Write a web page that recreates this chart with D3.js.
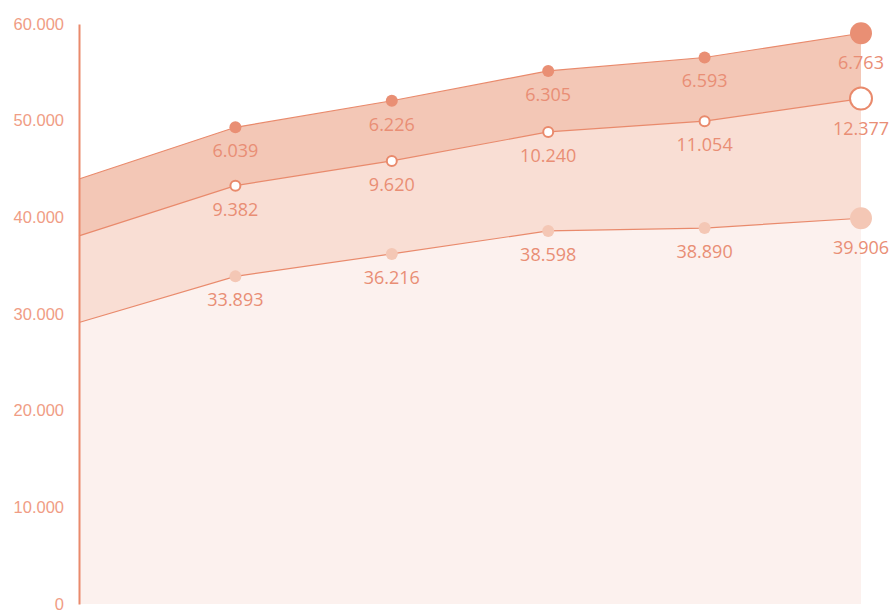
<!DOCTYPE html>
<html>
<head>
<meta charset="utf-8">
<script src="https://cdn.jsdelivr.net/npm/d3@7"></script>
<style>
  body { margin: 0; background: #fff; }
  svg { display: block; font-family: "Open Sans", "Noto Sans", sans-serif; }
</style>
</head>
<body>
<svg id="chart" width="893" height="612"></svg>
<script>
/** Categories along x (no labels shown in the chart) */
var periods = ["p0", "p1", "p2", "p3", "p4", "p5"];

/** Series values, in thousands, stacked bottom to top */
var baseValues = [29.12, 33.893, 36.216, 38.598, 38.890, 39.906];
var midValues = [8.96, 9.382, 9.620, 10.240, 11.054, 12.377];
var topValues = [5.88, 6.039, 6.226, 6.305, 6.593, 6.763];

/** Y tick values */
var yTicks = [0, 10, 20, 30, 40, 50, 60];

var lineColor = "#e98a6c",
    axisText = "#f09d85",
    labelText = "#e98e75";

var svg = d3.select("#chart");

var x = d3.scalePoint()
    .domain(periods)
    .range([79, 861]);

var y = d3.scaleLinear()
    .domain([0, 60])
    .range([604, 24]);

// build rows for the stack
var rows = periods.map(function(p, i) {
  return {period: p, base: baseValues[i], mid: midValues[i], top: topValues[i]};
});

var stack = d3.stack().keys(["base", "mid", "top"]);
var layers = stack(rows);

var fills = ["#fcf1ee", "#f9ded4", "#f3c7b6"];

var area = d3.area()
    .x(function(d) { return x(d.data.period); })
    .y0(function(d) { return y(d[0]); })
    .y1(function(d) { return y(d[1]); });

var line = d3.line()
    .x(function(d) { return x(d.data.period); })
    .y(function(d) { return y(d[1]); });

svg.selectAll(".layer")
  .data(layers)
  .enter().append("path")
  .attr("class", "layer")
  .attr("d", area)
  .attr("fill", function(d, i) { return fills[i]; });

svg.selectAll(".edge")
  .data(layers)
  .enter().append("path")
  .attr("class", "edge")
  .attr("d", line)
  .attr("fill", "none")
  .attr("stroke", lineColor)
  .attr("stroke-width", 1.2);

// y axis
var yAxis = d3.axisLeft(y)
    .tickValues(yTicks)
    .tickSize(0)
    .tickPadding(15)
    .tickFormat(function(d) { return d === 0 ? "0" : d + ".000"; });

var gy = svg.append("g")
    .attr("transform", "translate(79,0)")
    .call(yAxis);
gy.select(".domain")
    .attr("stroke", lineColor)
    .attr("stroke-width", 2);
gy.selectAll("text")
    .attr("fill", axisText)
    .style("font-size", "16.5px");

// markers + labels (skip the first point)
var markerStyle = [
  {fill: "#f4c7b5", stroke: "none"},
  {fill: "#ffffff", stroke: lineColor},
  {fill: "#e98f74", stroke: "none"}
];

var fmt = d3.format(",.3f");

layers.forEach(function(layer, li) {
  var pts = layer.filter(function(d, i) { return i > 0; });
  var n = pts.length;
  var g = svg.append("g");

  g.selectAll("circle")
    .data(pts)
    .enter().append("circle")
    .attr("cx", function(d) { return x(d.data.period); })
    .attr("cy", function(d) { return y(d[1]); })
    .attr("r", function(d, i) { return i === n - 1 ? 11 : (li === 1 ? 5 : 6); })
    .attr("fill", markerStyle[li].fill)
    .attr("stroke", markerStyle[li].stroke)
    .attr("stroke-width", 2);

  g.selectAll("text")
    .data(pts)
    .enter().append("text")
    .attr("x", function(d) { return x(d.data.period); })
    .attr("y", function(d, i) { return y(d[1]) + (i === n - 1 ? 36 : 30); })
    .attr("text-anchor", "middle")
    .attr("fill", labelText)
    .style("font-size", "18px")
    .text(function(d) { return fmt(d[1] - d[0]); });
});
</script>
</body>
</html>
